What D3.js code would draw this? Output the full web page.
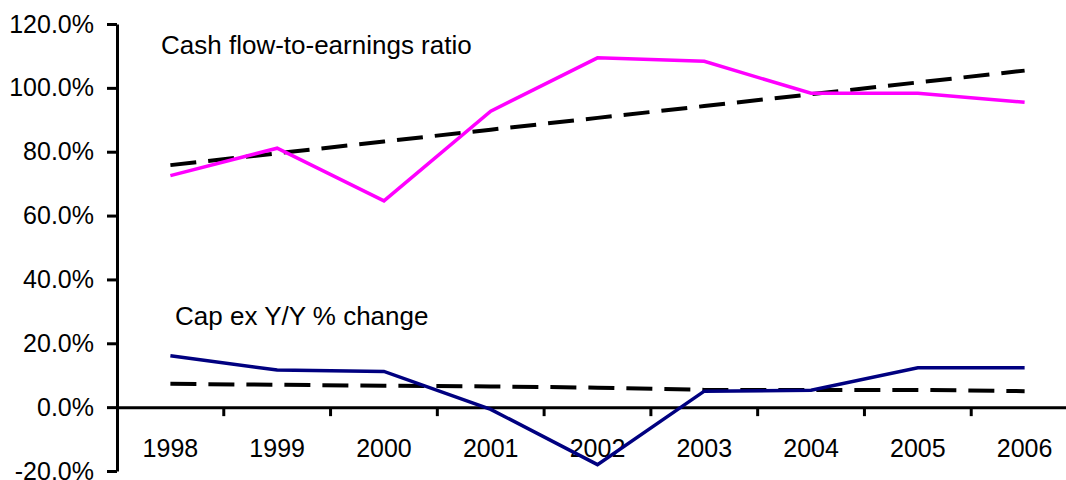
<!DOCTYPE html>
<html>
<head>
<meta charset="utf-8">
<script src="https://cdn.jsdelivr.net/npm/d3@7"></script>
<style>
  html, body { margin: 0; padding: 0; background: #fff; }
  svg { display: block; font-family: "Liberation Sans", Arial, sans-serif; }
</style>
</head>
<body>
<div id="app"></div>
<script>
// ---------- Data ----------
const years = ["1998", "1999", "2000", "2001", "2002", "2003", "2004", "2005", "2006"];
const cashFlowRatio = [72.5, 81.1, 64.6, 92.7, 109.4, 108.3, 98.3, 98.3, 95.5];
const cashFlowTrend = [75.8, 79.5, 83.2, 86.9, 90.6, 94.3, 98.0, 101.7, 105.4];
const capExChange = [16.1, 11.6, 11.2, -0.7, -18.0, 5.0, 5.3, 12.3, 12.3];
const capExTrend = [7.3, 7.0, 6.7, 6.5, 6.1, 5.4, 5.4, 5.4, 5.0];
const yTicks = [-20, 0, 20, 40, 60, 80, 100, 120];

// ---------- Layout ----------
const WIDTH = 1066, HEIGHT = 480;
const X0 = 117, X1 = 1078;
const FS = 25;

const svg = d3.select("#app").append("svg")
  .attr("width", WIDTH)
  .attr("height", HEIGHT);

const x = d3.scaleBand().domain(years).range([X0, X1]).padding(0);
const y = d3.scaleLinear().domain([-20, 120]).range([471, 24]);
const cx = d => x(d) + x.bandwidth() / 2;

// ---------- Axes ----------
svg.append("g")
  .attr("transform", `translate(${X0},0)`)
  .call(d3.axisLeft(y).tickValues(yTicks).tickSize(10).tickSizeOuter(0).tickPadding(13)
    .tickFormat(d => d.toFixed(1) + "%"));

svg.append("g")
  .attr("transform", `translate(0,${y(0)})`)
  .call(d3.axisBottom(x).tickSize(0).tickSizeOuter(0).tickPadding(32.2));

// tick marks between categories
svg.append("g")
  .attr("transform", `translate(0,${y(0)})`)
  .selectAll("line")
  .data(years.slice(1))
  .join("line")
  .attr("x1", d => x(d)).attr("x2", d => x(d))
  .attr("y1", 0).attr("y2", 9)
  .attr("stroke", "#000").attr("stroke-width", 3);

svg.selectAll(".domain, .tick line")
  .attr("stroke", "#000").attr("stroke-width", 3);
svg.selectAll(".tick text")
  .attr("fill", "#000")
  .style("font-size", FS + "px");

// ---------- Lines ----------
const line = d3.line().x((d, i) => cx(years[i])).y(d => y(d));

svg.append("path").datum(cashFlowTrend).attr("d", line)
  .attr("fill", "none").attr("stroke", "#000").attr("stroke-width", 4)
  .attr("stroke-dasharray", "26,12");
svg.append("path").datum(capExTrend).attr("d", line)
  .attr("fill", "none").attr("stroke", "#000").attr("stroke-width", 4)
  .attr("stroke-dasharray", "26,12");
svg.append("path").datum(cashFlowRatio).attr("d", line)
  .attr("fill", "none").attr("stroke", "#FF00FF").attr("stroke-width", 3.5);
svg.append("path").datum(capExChange).attr("d", line)
  .attr("fill", "none").attr("stroke", "#000080").attr("stroke-width", 3.5);

// ---------- Labels ----------
svg.append("text").attr("x", 161).attr("y", 54)
  .style("font-size", "26px").text("Cash flow-to-earnings ratio");
svg.append("text").attr("x", 175).attr("y", 325)
  .style("font-size", "26px").text("Cap ex Y/Y % change");
</script>
</body>
</html>
